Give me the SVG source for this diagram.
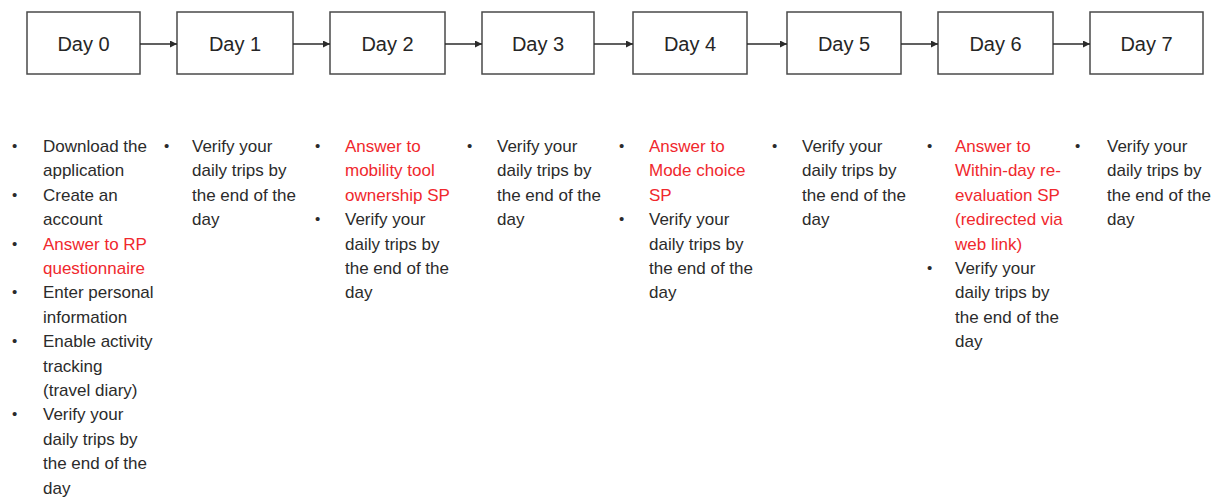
<svg xmlns="http://www.w3.org/2000/svg" width="1221" height="498" viewBox="0 0 1221 498">
  <style>
    .box { fill: #ffffff; stroke: #4a4a4a; stroke-width: 1.5; }
    .day { font-family: "Liberation Sans", Arial, sans-serif; font-size: 20px; fill: #262626; text-anchor: middle; }
    .note { font-family: "Liberation Sans", Arial, sans-serif; font-size: 17px; fill: #2b2b2b; }
    .red { fill: #f0282d; }
    .bul { font-family: "Liberation Sans", Arial, sans-serif; font-size: 15px; fill: #2b2b2b; }
    .link { stroke: #2b2b2b; stroke-width: 1.3; fill: none; marker-end: url(#head); }
  </style>
  <defs>
    <marker id="head" viewBox="0 0 10 10" refX="10" refY="5" markerWidth="7" markerHeight="7" markerUnits="userSpaceOnUse" orient="auto">
      <path d="M0,0 L10,5 L0,10 z" fill="#2b2b2b"/>
    </marker>
  </defs>
  <rect width="1221" height="498" fill="#ffffff"/>

  <!-- timeline boxes -->
  <g id="day0"><rect class="box" x="27" y="12" width="113" height="62"/><text class="day" x="83.5" y="51">Day 0</text></g>
  <g id="day1"><rect class="box" x="177" y="12" width="116" height="62"/><text class="day" x="235" y="51">Day 1</text></g>
  <g id="day2"><rect class="box" x="330" y="12" width="115" height="62"/><text class="day" x="387.5" y="51">Day 2</text></g>
  <g id="day3"><rect class="box" x="482" y="12" width="112" height="62"/><text class="day" x="538" y="51">Day 3</text></g>
  <g id="day4"><rect class="box" x="633" y="12" width="114" height="62"/><text class="day" x="690" y="51">Day 4</text></g>
  <g id="day5"><rect class="box" x="787" y="12" width="114" height="62"/><text class="day" x="844" y="51">Day 5</text></g>
  <g id="day6"><rect class="box" x="938" y="12" width="115" height="62"/><text class="day" x="995.5" y="51">Day 6</text></g>
  <g id="day7"><rect class="box" x="1090" y="12" width="113" height="62"/><text class="day" x="1146.5" y="51">Day 7</text></g>

  <!-- arrows between days -->
  <g id="connectors">
    <line class="link" x1="140" y1="44" x2="177" y2="44"/>
    <line class="link" x1="293" y1="44" x2="330" y2="44"/>
    <line class="link" x1="445" y1="44" x2="482" y2="44"/>
    <line class="link" x1="594" y1="44" x2="633" y2="44"/>
    <line class="link" x1="747" y1="44" x2="787" y2="44"/>
    <line class="link" x1="901" y1="44" x2="938" y2="44"/>
    <line class="link" x1="1053" y1="44" x2="1090" y2="44"/>
  </g>

  <!-- task lists under each day -->
  <g id="tasks0">
    <text class="bul" x="12" y="151">•</text>
    <text class="note" x="43" y="152">Download the<tspan x="43" dy="24.4">application</tspan></text>
    <text class="bul" x="12" y="199.8">•</text>
    <text class="note" x="43" y="200.8">Create an<tspan x="43" dy="24.4">account</tspan></text>
    <text class="bul red" x="12" y="248.6">•</text>
    <text class="note red" x="43" y="249.6">Answer to RP<tspan x="43" dy="24.4">questionnaire</tspan></text>
    <text class="bul" x="12" y="297.4">•</text>
    <text class="note" x="43" y="298.4">Enter personal<tspan x="43" dy="24.4">information</tspan></text>
    <text class="bul" x="12" y="346.2">•</text>
    <text class="note" x="43" y="347.2">Enable activity<tspan x="43" dy="24.4">tracking</tspan><tspan x="43" dy="24.4">(travel diary)</tspan></text>
    <text class="bul" x="12" y="419.4">•</text>
    <text class="note" x="43" y="420.4">Verify your<tspan x="43" dy="24.4">daily trips by</tspan><tspan x="43" dy="24.4">the end of the</tspan><tspan x="43" dy="24.4">day</tspan></text>
  </g>

  <g id="tasks1">
    <text class="bul" x="164" y="151">•</text>
    <text class="note" x="192" y="152">Verify your<tspan x="192" dy="24.4">daily trips by</tspan><tspan x="192" dy="24.4">the end of the</tspan><tspan x="192" dy="24.4">day</tspan></text>
  </g>

  <g id="tasks2">
    <text class="bul red" x="315" y="151">•</text>
    <text class="note red" x="345" y="152">Answer to<tspan x="345" dy="24.4">mobility tool</tspan><tspan x="345" dy="24.4">ownership SP</tspan></text>
    <text class="bul" x="315" y="224.2">•</text>
    <text class="note" x="345" y="225.2">Verify your<tspan x="345" dy="24.4">daily trips by</tspan><tspan x="345" dy="24.4">the end of the</tspan><tspan x="345" dy="24.4">day</tspan></text>
  </g>

  <g id="tasks3">
    <text class="bul" x="467" y="151">•</text>
    <text class="note" x="497" y="152">Verify your<tspan x="497" dy="24.4">daily trips by</tspan><tspan x="497" dy="24.4">the end of the</tspan><tspan x="497" dy="24.4">day</tspan></text>
  </g>

  <g id="tasks4">
    <text class="bul red" x="619" y="151">•</text>
    <text class="note red" x="649" y="152">Answer to<tspan x="649" dy="24.4">Mode choice</tspan><tspan x="649" dy="24.4">SP</tspan></text>
    <text class="bul" x="619" y="224.2">•</text>
    <text class="note" x="649" y="225.2">Verify your<tspan x="649" dy="24.4">daily trips by</tspan><tspan x="649" dy="24.4">the end of the</tspan><tspan x="649" dy="24.4">day</tspan></text>
  </g>

  <g id="tasks5">
    <text class="bul" x="772" y="151">•</text>
    <text class="note" x="802" y="152">Verify your<tspan x="802" dy="24.4">daily trips by</tspan><tspan x="802" dy="24.4">the end of the</tspan><tspan x="802" dy="24.4">day</tspan></text>
  </g>

  <g id="tasks6">
    <text class="bul red" x="927" y="151">•</text>
    <text class="note red" x="955" y="152">Answer to<tspan x="955" dy="24.4">Within-day re-</tspan><tspan x="955" dy="24.4">evaluation SP</tspan><tspan x="955" dy="24.4">(redirected via</tspan><tspan x="955" dy="24.4">web link)</tspan></text>
    <text class="bul" x="927" y="273">•</text>
    <text class="note" x="955" y="274">Verify your<tspan x="955" dy="24.4">daily trips by</tspan><tspan x="955" dy="24.4">the end of the</tspan><tspan x="955" dy="24.4">day</tspan></text>
  </g>

  <g id="tasks7">
    <text class="bul" x="1075" y="151">•</text>
    <text class="note" x="1107" y="152">Verify your<tspan x="1107" dy="24.4">daily trips by</tspan><tspan x="1107" dy="24.4">the end of the</tspan><tspan x="1107" dy="24.4">day</tspan></text>
  </g>
</svg>
